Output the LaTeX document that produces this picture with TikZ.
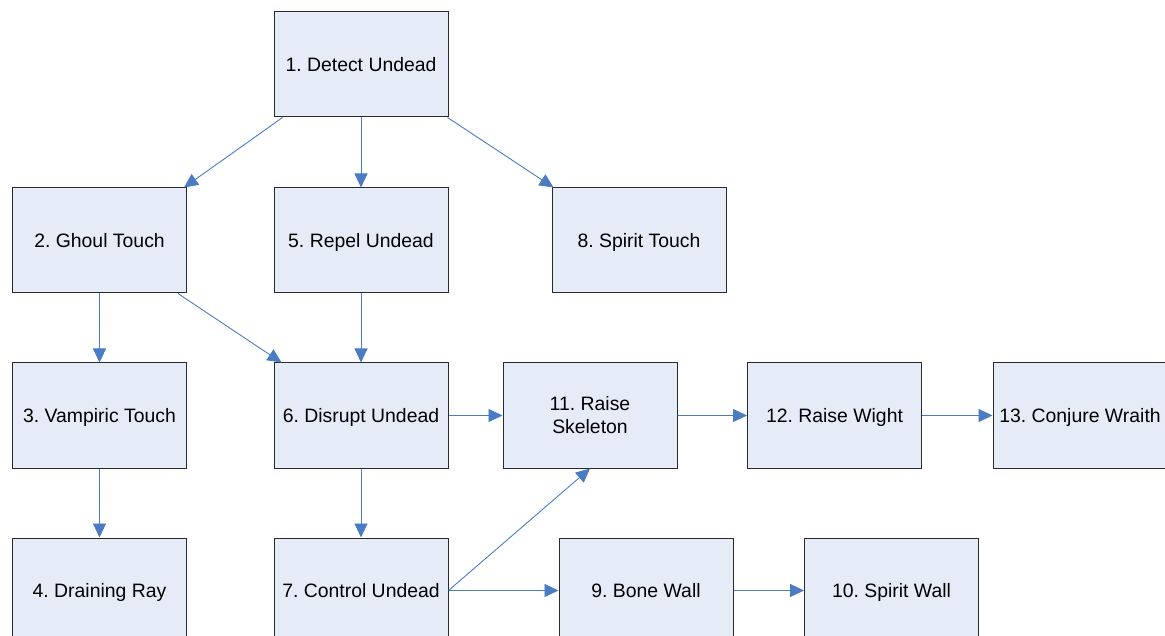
\documentclass[tikz,border=0pt]{standalone}
\usepackage{fontspec}
\setmainfont{Liberation Sans}
\usetikzlibrary{arrows.meta,calc}
\definecolor{boxfill}{HTML}{E6ECF7}
\definecolor{boxline}{HTML}{2A2A2A}
\definecolor{linkblue}{HTML}{4A7CC4}
\frenchspacing
\begin{document}
\begin{tikzpicture}[x=1pt,y=-1pt,
  spell/.style={draw=boxline, fill=boxfill, line width=1pt,
    minimum width=174pt, minimum height=105pt, inner sep=0pt,
    text height=14pt, text depth=0pt,
    align=center, font=\fontsize{19.4}{23}\selectfont},
  twoline/.style={text height=, text depth=},
  link/.style={draw=linkblue, line width=0.9pt,
    -{Triangle[length=14pt,width=13pt]}}]
\useasboundingbox (0,0) rectangle (1165,636);
\begin{scope}
\clip (0,0) rectangle (1165,636);
% first row
\node[spell] (n1) at (361,64.5) {1. Detect Undead};
% second row
\node[spell] (n2) at (99.5,240.5) {2. Ghoul Touch};
\node[spell] (n5) at (361,240.5) {5. Repel Undead};
\node[spell] (n8) at (639,240.5) {8. Spirit Touch};
% third row
\node[spell] (n3) at (99.5,415.5) {3. Vampiric Touch};
\node[spell] (n6) at (361,415.5) {6. Disrupt Undead};
\node[spell,twoline] (n11) at (590,415.5) {11. Raise\\Skeleton};
\node[spell] (n12) at (834.5,415.5) {12. Raise Wight};
\node[spell] (n13) at (1080,415.5) {13. Conjure Wraith};
% fourth row
\node[spell] (n4) at (99.5,590.5) {4. Draining Ray};
\node[spell] (n7) at (361,590.5) {7. Control Undead};
\node[spell] (n9) at (646,590.5) {9. Bone Wall};
\node[spell] (n10) at (891.5,590.5) {10. Spirit Wall};
\end{scope}
% connectors
\draw[link] ($(n1.south west)+(9,0)$) -- ($(n2.north east)+(-3,0)$);
\draw[link] (n1.south) -- (n5.north);
\draw[link] ($(n1.south east)+(-1,0)$) -- ($(n8.north west)+(2,0)$);
\draw[link] (n2.south) -- (n3.north);
\draw[link] ($(n2.south east)+(-9,0)$) -- ($(n6.north west)+(8,0)$);
\draw[link] (n5.south) -- (n6.north);
\draw[link] (n3.south) -- (n4.north);
\draw[link] (n6.east) -- (n11.west);
\draw[link] (n6.south) -- (n7.north);
\draw[link] (n11.east) -- (n12.west);
\draw[link] (n12.east) -- (n13.west);
\draw[link] (n7.east) -- (n11.south);
\draw[link] (n7.east) -- (n9.west);
\draw[link] (n9.east) -- (n10.west);
\end{tikzpicture}
\end{document}
